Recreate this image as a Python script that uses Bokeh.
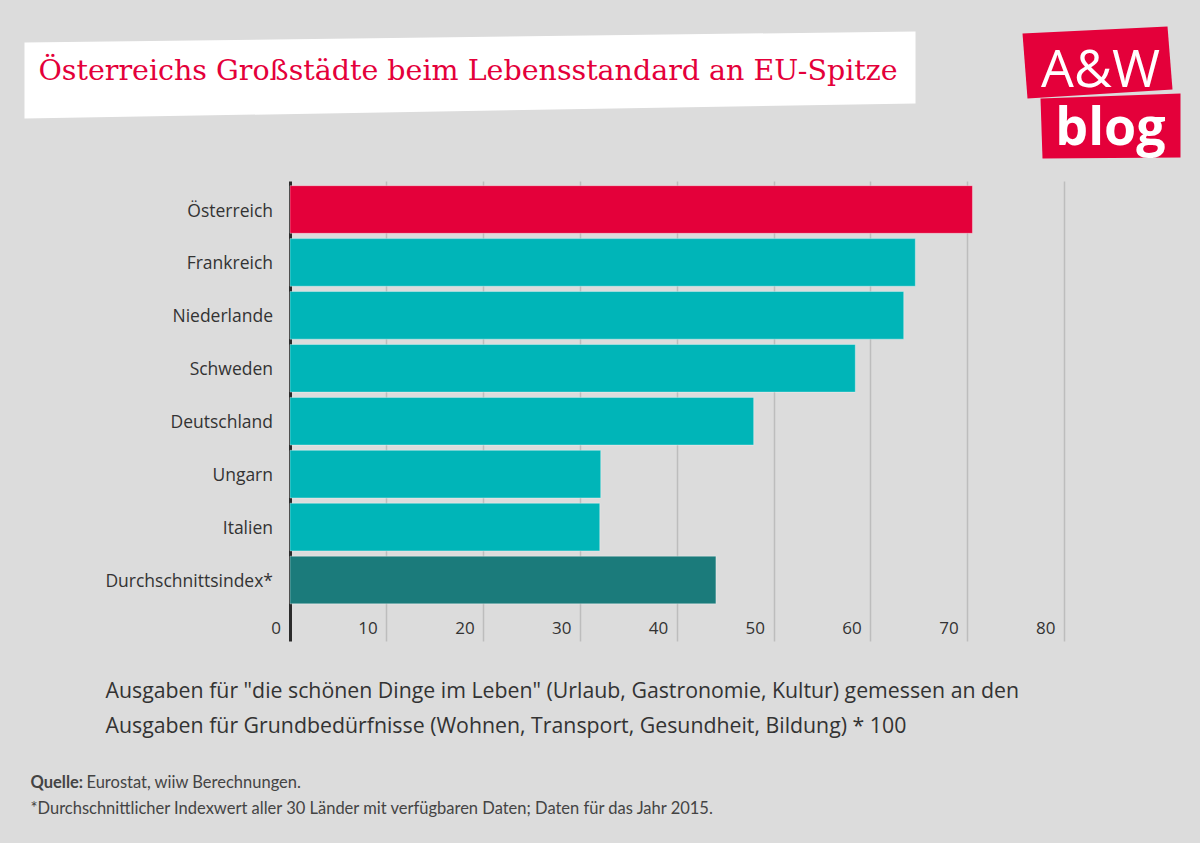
from bokeh.plotting import figure
from bokeh.models import (ColumnDataSource, FixedTicker, Range1d, Label, PolyAnnotation,
                          Grid, GlobalInlineStyleSheet)
from bokeh.core.properties import value
from bokeh.embed import file_html
from bokeh.resources import INLINE
import numpy as np

# ---------------- data ----------------
categories = ["Österreich", "Frankreich", "Niederlande", "Schweden",
              "Deutschland", "Ungarn", "Italien", "Durchschnittsindex*"]
values = [70.5, 64.6, 63.4, 58.4, 47.9, 32.1, 32.0, 44.0]
bar_colors = ["#e4003a", "#00b5b8", "#00b5b8", "#00b5b8",
              "#00b5b8", "#00b5b8", "#00b5b8", "#1b7b7b"]
x_ticks = [0, 10, 20, 30, 40, 50, 60, 70, 80]
x_tick_labels = [str(t) for t in x_ticks]

title_text = "Österreichs Großstädte beim Lebensstandard an EU-Spitze"
caption_1 = 'Ausgaben für "die schönen Dinge im Leben" (Urlaub, Gastronomie, Kultur) gemessen an den'
caption_2 = "Ausgaben für Grundbedürfnisse (Wohnen, Transport, Gesundheit, Bildung) * 100"
source_bold = "Quelle:"
source_text = "Eurostat, wiiw Berechnungen."
footnote = "*Durchschnittlicher Indexwert aller 30 Länder mit verfügbaren Daten; Daten für das Jahr 2015."

BG = "#dcdcdc"
W, H = 1200, 843
n = len(categories)
ypos = list(np.arange(n)[::-1].astype(float))  # top category highest

# ---------------- geometry (pixels) ----------------
X0PX, PX_PER_UNIT = 289.5, 9.68       # x of value 0, pixels per unit
YTOPCAT_PX, PITCH = 209.0, 52.93      # center of top bar, bar pitch
x_start = -X0PX / PX_PER_UNIT
x_end = (W - X0PX) / PX_PER_UNIT
y_top = (n - 1) + YTOPCAT_PX / PITCH
y_bot = (n - 1) - (H - YTOPCAT_PX) / PITCH
grid_top = (n - 1) + 28 / PITCH
grid_bot = -61 / PITCH

def rx(X):
    return x_start + X * (x_end - x_start) / W

def ry(Y):
    return y_top - Y * (y_top - y_bot) / H

def by(Y, size):
    # baseline position corrected for how alphabetic baselines render here
    return ry(Y - 0.37 * size)

p = figure(width=W, height=H, output_backend="svg", toolbar_location=None,
           x_range=Range1d(x_start, x_end), y_range=Range1d(y_bot, y_top),
           x_axis_location=None, y_axis_location=None,
           min_border=0, min_border_left=0, min_border_right=0,
           min_border_top=0, min_border_bottom=0)
p.background_fill_color = BG
p.border_fill_color = BG
p.outline_line_color = None
p.stylesheets = [GlobalInlineStyleSheet(css="html, body { background: %s; margin: 0; }" % BG)]
# drop default grids
p.center = [r for r in p.center if not isinstance(r, Grid)]

# ---------------- title box & logo ----------------
p.add_layout(PolyAnnotation(xs=[rx(24), rx(915), rx(915), rx(24)],
                            ys=[ry(42), ry(31), ry(103), ry(118)],
                            fill_color="white", fill_alpha=1, line_color=None, level="underlay"))
p.add_layout(Label(x=rx(38), y=by(81, 28.5), text=title_text, text_color="#e4003a",
                   text_font="DejaVu Serif", text_font_size="28.5px", text_baseline="alphabetic"))

p.add_layout(PolyAnnotation(xs=[rx(1022), rx(1167), rx(1172), rx(1027)],
                            ys=[ry(33), ry(26), ry(89), ry(98)],
                            fill_color="#e4003a", fill_alpha=1, line_color=None))
p.add_layout(PolyAnnotation(xs=[rx(1040), rx(1180), rx(1180), rx(1042)],
                            ys=[ry(98), ry(93), ry(157), ry(158)],
                            fill_color="#e4003a", fill_alpha=1, line_color=None))
p.add_layout(Label(x=rx(1100), y=by(85, 52), text="A&W", text_color="white", text_align="center",
                   text_font="Open Sans", text_font_size="52px", text_baseline="alphabetic"))
p.add_layout(Label(x=rx(1110), y=by(143, 52), text="blog", text_color="white", text_align="center",
                   text_font="Open Sans", text_font_style="bold", text_font_size="52px",
                   text_baseline="alphabetic"))

# ---------------- grid lines & zero line ----------------
try:
    g = Grid(dimension=0, ticker=FixedTicker(ticks=x_ticks[1:]), cross_bounds=(grid_bot, grid_top),
             grid_line_color="#bdbdbd", grid_line_width=1.5)
    g0 = Grid(dimension=0, ticker=FixedTicker(ticks=x_ticks[:1]), cross_bounds=(grid_bot, grid_top),
              grid_line_color="#2b2b2b", grid_line_width=3)
    p.add_layout(g)
    p.add_layout(g0)
except AttributeError:
    gx = x_ticks[1:]
    p.segment(x0=gx, y0=[grid_bot] * len(gx), x1=gx, y1=[grid_top] * len(gx),
              line_color="#bdbdbd", line_width=1.5, level="underlay")
    p.segment(x0=x_ticks[:1], y0=[grid_bot], x1=x_ticks[:1], y1=[grid_top],
              line_color="#2b2b2b", line_width=3, level="overlay")

# ---------------- bars ----------------
src = ColumnDataSource(dict(y=ypos, v=values, c=bar_colors, cat=categories))
p.hbar(y="y", left=0, right="v", height=0.9, fill_color="c",
       line_color="white", line_alpha=0.35, line_width=1, source=src)

# category labels (left of zero line)
p.text(x=0, y="y", text="cat", source=src, x_offset=-17,
       text_align="right", text_baseline="middle",
       text_font=value("Open Sans"), text_font_size="17.5px", text_color="#333333")

# x tick labels (left of each grid line, at the bottom of the grid)
tsrc = ColumnDataSource(dict(x=x_ticks, y=[grid_bot] * len(x_ticks), t=x_tick_labels))
p.text(x="x", y="y", text="t", source=tsrc, x_offset=-9, y_offset=-13,
       text_align="right", text_baseline="alphabetic",
       text_font=value("Open Sans"), text_font_size="17px", text_color="#333333")

# ---------------- caption ----------------
for txt, Y in [(caption_1, 697), (caption_2, 732)]:
    p.add_layout(Label(x=rx(105), y=by(Y, 21.3), text=txt, text_color="#333333",
                       text_font="Open Sans", text_font_size="21.3px", text_baseline="alphabetic"))

# ---------------- source / footnote ----------------
p.add_layout(Label(x=rx(30), y=by(788, 16.5), text=source_bold, text_color="#444444",
                   text_font_style="bold", text_font="Lato", text_font_size="16.5px",
                   text_baseline="alphabetic"))
p.add_layout(Label(x=rx(86), y=by(788, 16.5), text=source_text, text_color="#444444",
                   text_font="Lato", text_font_size="16.5px", text_baseline="alphabetic"))
p.add_layout(Label(x=rx(30), y=by(814, 16.5), text=footnote, text_color="#444444",
                   text_font="Lato", text_font_size="16.5px", text_baseline="alphabetic"))

open("out.html", "w").write(file_html(p, INLINE))
